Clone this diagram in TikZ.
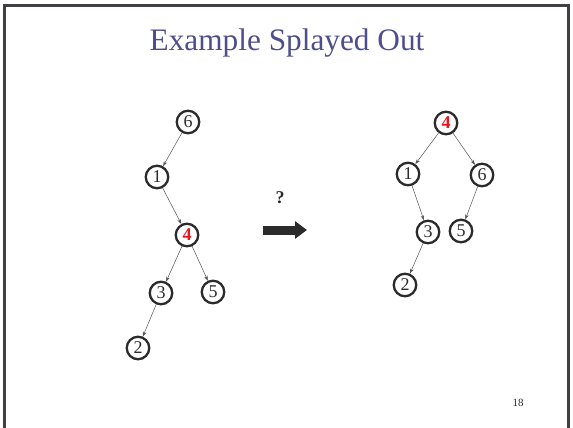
\documentclass[tikz,border=0pt]{standalone}
\usepackage{fontspec}
\setmainfont{Liberation Serif}
\usetikzlibrary{arrows.meta}
\definecolor{frame}{HTML}{3F3F44}
\definecolor{titleblue}{HTML}{4E4E8C}
\definecolor{ink}{HTML}{2B2B2B}
\definecolor{edge}{HTML}{555555}
\definecolor{hot}{HTML}{E8141E}
\tikzset{
  tn/.style={circle, draw=ink, line width=2.3pt, minimum size=22.5pt, inner sep=0pt, font=\fontsize{18}{18}\selectfont, text=ink},
  hotn/.style={tn, text=hot, font=\fontsize{18}{18}\selectfont\bfseries},
  ed/.style={draw=edge, line width=0.5pt, -{Stealth[length=5pt,width=3.5pt]}},
}
\begin{document}
\begin{tikzpicture}[x=1pt,y=-1pt]
\useasboundingbox (0,0) rectangle (573,428);
\fill[white] (0,0) rectangle (573,428);
\draw[frame, line width=3pt] (4.5,428) -- (4.5,5.5) -- (568,5.5) -- (568,428);
\node[text=titleblue, font=\fontsize{31.3}{32}\selectfont] (title) at (287,43) {Example Splayed Out};
% left tree
\node[tn] (l6) at (188,122) {6};
\node[tn] (l1) at (157,177) {1};
\node[hotn] (l4) at (187,235) {4};
\node[tn] (l3) at (161,293) {3};
\node[tn] (l5) at (213,292) {5};
\node[tn] (l2) at (138,348) {2};
\draw[ed] (l6) -- (l1);
\draw[ed] (l1) -- (l4);
\draw[ed] (l4) -- (l3);
\draw[ed] (l4) -- (l5);
\draw[ed] (l3) -- (l2);
% right tree
\node[hotn] (r4) at (446,123) {4};
\node[tn] (r1) at (408,174) {1};
\node[tn] (r6) at (482,175) {6};
\node[tn] (r3) at (428,232) {3};
\node[tn] (r5) at (461,231) {5};
\node[tn] (r2) at (405,285) {2};
\draw[ed] (r4) -- (r1);
\draw[ed] (r4) -- (r6);
\draw[ed] (r1) -- (r3);
\draw[ed] (r6) -- (r5);
\draw[ed] (r3) -- (r2);
% transformation arrow
\node[font=\fontsize{18}{18}\selectfont\bfseries, text=ink] (q) at (280,198) {?};
\coordinate (a0) at (263,230);
\coordinate (a1) at (307,230);
\draw[ink, line width=9pt, -{Triangle[length=12pt,width=17pt]}] (a0) -- (a1);
\node[font=\fontsize{11}{11}\selectfont, text=ink] (pg) at (518,403) {18};
\end{tikzpicture}
\end{document}
